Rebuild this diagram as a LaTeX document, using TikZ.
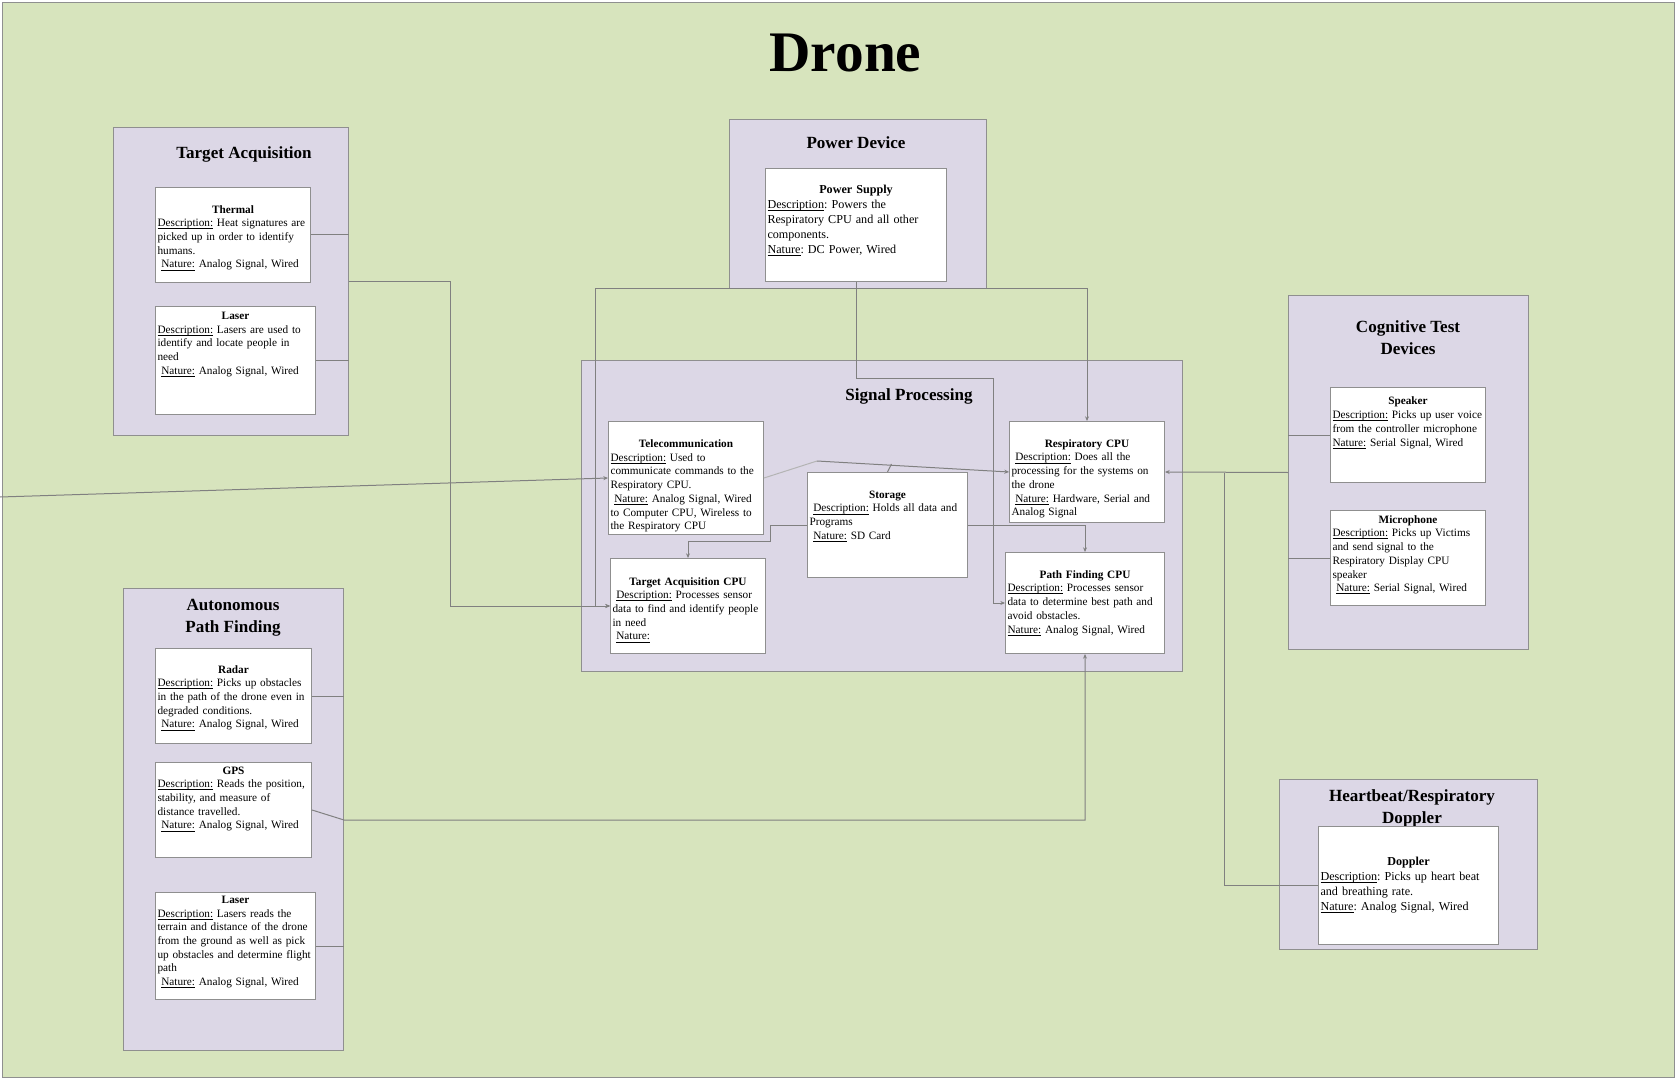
\documentclass[tikz,border=0pt]{standalone}
\usepackage{fontspec}
\setmainfont{Liberation Serif}
\usepackage{tikz}
\usetikzlibrary{calc,arrows.meta}
\definecolor{bggreen}{HTML}{D7E4BD}
\definecolor{grouppurple}{HTML}{DCD7E6}
\definecolor{edgegray}{HTML}{8F8F8F}
\definecolor{wiregray}{HTML}{808080}
\definecolor{lightwire}{HTML}{B4B4B4}
\newcommand{\fieldname}[1]{\underline{\smash{#1}}}
\frenchspacing

\begin{document}
\begin{tikzpicture}[x=0.75pt, y=-0.75pt,
    group/.style 2 args={draw=edgegray, fill=grouppurple, line width=0.75pt, anchor=north west, inner sep=0pt, minimum width=#1*0.75pt, minimum height=#2*0.75pt},
    box/.style 2 args={draw=edgegray, fill=white, line width=0.75pt, anchor=north west, inner xsep=1.5pt, inner ysep=0pt, minimum width=#1*0.75pt, minimum height=#2*0.75pt, text width=#1*0.75pt-3pt, font=\fontsize{8.45pt}{10.3pt}\selectfont\frenchspacing},
    bigbox/.style 2 args={box={#1}{#2}, font=\fontsize{9.1pt}{11.25pt}\selectfont\frenchspacing},
    grouptitle/.style={anchor=base, align=center, inner sep=0pt, font=\fontsize{12.8pt}{16pt}\selectfont\bfseries},
    wire/.style={draw=wiregray, line width=0.75pt},
    arr/.style={wire, -{Stealth[length=3.5pt, width=3pt]}}
  ]
    \useasboundingbox (0,0) rectangle (1676,1080);
    \fill[white] (0,0) rectangle (1676,1080);
    \draw[draw=edgegray, fill=bggreen, line width=0.75pt] (2,3) rectangle (1674,1077);

    \node (droneTitle) at (845.5,72) [anchor=base, inner sep=0pt, font=\fontsize{43pt}{50pt}\selectfont\bfseries] {Drone};

    \node (taGroup) at (113,127) [group={235}{308}] {};
    \node (taTitle) at (244,159) [grouptitle] {Target Acquisition};
    \node (thermal) at (155,187) [box={155}{95}] {\par\centering\textbf{Thermal}\par\raggedright\fieldname{Description:} Heat signatures are\\picked up in order to identify\\humans.\\\ \fieldname{Nature:} Analog Signal, Wired};
    \node (laserTA) at (155,306) [box={160}{108}] {\par\vspace*{-28.6pt}\centering\textbf{Laser}\par\raggedright\fieldname{Description:} Lasers are used to\\identify and locate people in\\need\\\ \fieldname{Nature:} Analog Signal, Wired};

    \node (powerGroup) at (729,119) [group={257}{169}] {};
    \node (powerTitle) at (856,149) [grouptitle] {Power Device};
    \node (supply) at (765,168) [bigbox={181}{113}] {\par\vspace*{-11.8pt}\centering\textbf{Power Supply}\par\raggedright\fieldname{Description}: Powers the\\Respiratory CPU and all other\\components.\\\fieldname{Nature}: DC Power, Wired};

    \node (spGroup) at (581,360) [group={601}{311}] {};
    \node (spTitle) at (909,400) [grouptitle] {Signal Processing};
    \node (telecom) at (608,421) [box={155}{113}] {\par\vspace*{7.4pt}\centering\textbf{Telecommunication}\par\raggedright\fieldname{Description:} Used to\\communicate commands to the\\Respiratory CPU.\\\ \fieldname{Nature:} Analog Signal, Wired\\to Computer CPU, Wireless to\\the Respiratory CPU};
    \node (taCPU) at (610,558) [box={155}{95}] {\par\vspace*{1.4pt}\centering\textbf{Target Acquisition CPU}\par\raggedright\ \fieldname{Description:} Processes sensor\\data to find and identify people\\in need\\\ \fieldname{Nature:}};
    \node (storage) at (807,472) [box={160}{105}] {\par\vspace*{-17.6pt}\centering\textbf{Storage}\par\raggedright\ \fieldname{Description:} Holds all data and\\Programs\\\ \fieldname{Nature:} SD Card};
    \node (respCPU) at (1009,421) [box={155}{101}] {\par\vspace*{5.9pt}\centering\textbf{Respiratory CPU}\par\raggedright\ \fieldname{Description:} Does all the\\processing for the systems on\\the drone\\\ \fieldname{Nature:} Hardware, Serial and\\Analog Signal};
    \node (pathCPU) at (1005,552) [box={159}{101}] {\centering\textbf{Path Finding CPU}\par\raggedright\fieldname{Description:} Processes sensor\\data to determine best path and\\avoid obstacles.\\\fieldname{Nature:} Analog Signal, Wired};

    \node (cogGroup) at (1288,295) [group={240}{354}] {};
    \node (cogTitle) at (1408,354) [grouptitle] {Cognitive Test\\Devices};
    \node (speaker) at (1330,387) [box={155}{95}] {\par\vspace*{-22.6pt}\centering\textbf{Speaker}\par\raggedright\fieldname{Description:} Picks up user voice\\from the controller microphone\\\fieldname{Nature:} Serial Signal, Wired};
    \node (mic) at (1330,510) [box={155}{95}] {\par\vspace*{-9.1pt}\centering\textbf{Microphone}\par\raggedright\fieldname{Description:} Picks up Victims\\and send signal to the\\Respiratory Display CPU\\speaker\\\ \fieldname{Nature:} Serial Signal, Wired};

    \node (apfGroup) at (123,588) [group={220}{462}] {};
    \node (apfTitle) at (233,632) [grouptitle] {Autonomous\\Path Finding};
    \node (radar) at (155,648) [box={156}{95}] {\par\vspace*{-1.6pt}\centering\textbf{Radar}\par\raggedright\fieldname{Description:} Picks up obstacles\\in the path of the drone even in\\degraded conditions.\\\ \fieldname{Nature:} Analog Signal, Wired};
    \node (gps) at (155,762) [box={156}{95}] {\par\vspace*{-21.1pt}\centering\textbf{GPS}\par\raggedright\fieldname{Description:} Reads the position,\\stability, and measure of\\distance travelled.\\\ \fieldname{Nature:} Analog Signal, Wired};
    \node (laserAPF) at (155,892) [box={160}{107}] {\par\vspace*{-10.6pt}\centering\textbf{Laser}\par\raggedright\fieldname{Description:} Lasers reads the\\terrain and distance of the drone\\from the ground as well as pick\\up obstacles and determine flight\\path\\\ \fieldname{Nature:} Analog Signal, Wired};

    \node (hbGroup) at (1279,779) [group={258}{170}] {};
    \node (hbTitle) at (1412,823) [grouptitle] {Heartbeat/Respiratory\\Doppler};
    \node (doppler) at (1318,826) [bigbox={180}{118}] {\centering\textbf{Doppler}\par\raggedright\fieldname{Description}: Picks up heart beat\\and breathing rate.\\\fieldname{Nature}: Analog Signal, Wired};

    \draw[wire] (thermal.east) -- (thermal.east -| taGroup.east);
    \draw[wire] (laserTA.east) -- (laserTA.east -| taGroup.east);
    \draw[arr] (taGroup.east) -- ++(101,0) |- (taCPU.west);

    \coordinate (split) at (supply.south |- powerGroup.south);
    \draw[arr] (supply.south) -- ++(0,96) -| ($(pathCPU.west)+(-12,0)$) -- (pathCPU.west);
    \draw[arr] (split) -| ($(taCPU.west)+(-15,0)$) -- (taCPU.west);
    \draw[arr] (split) -| (respCPU.north);

    \coordinate (offEdge) at (0,497);
    \draw[arr] (offEdge) -- (telecom.west);
    \coordinate (bend) at (817,461);
    \draw[wire, draw=lightwire] (telecom.east) -- (bend);
    \draw[arr] (bend) -- (respCPU.west);
    \draw[wire] (storage.north) -- ++(4,-8);
    \draw[arr] (storage.west) -- ++(-37,0) |- ($(taCPU.north)+(0,-17)$) -- (taCPU.north);
    \draw[arr] (storage.east) -| (pathCPU.north);

    \draw[wire] (radar.east) -- (radar.east -| apfGroup.east);
    \draw[wire] (laserAPF.east) -- (laserAPF.east -| apfGroup.east);
    \draw[arr] (gps.east) -- ($(gps.east -| apfGroup.east)+(0,10)$) -| (pathCPU.south);

    \draw[wire] (speaker.west) -- (speaker.west -| cogGroup.west);
    \draw[wire] (mic.west) -- (mic.west -| cogGroup.west);
    \draw[arr] (cogGroup.west) -- (respCPU.east);
    \draw[wire] (doppler.west) -| ($(cogGroup.west)+(-64,0)$);
\end{tikzpicture}
\end{document}
